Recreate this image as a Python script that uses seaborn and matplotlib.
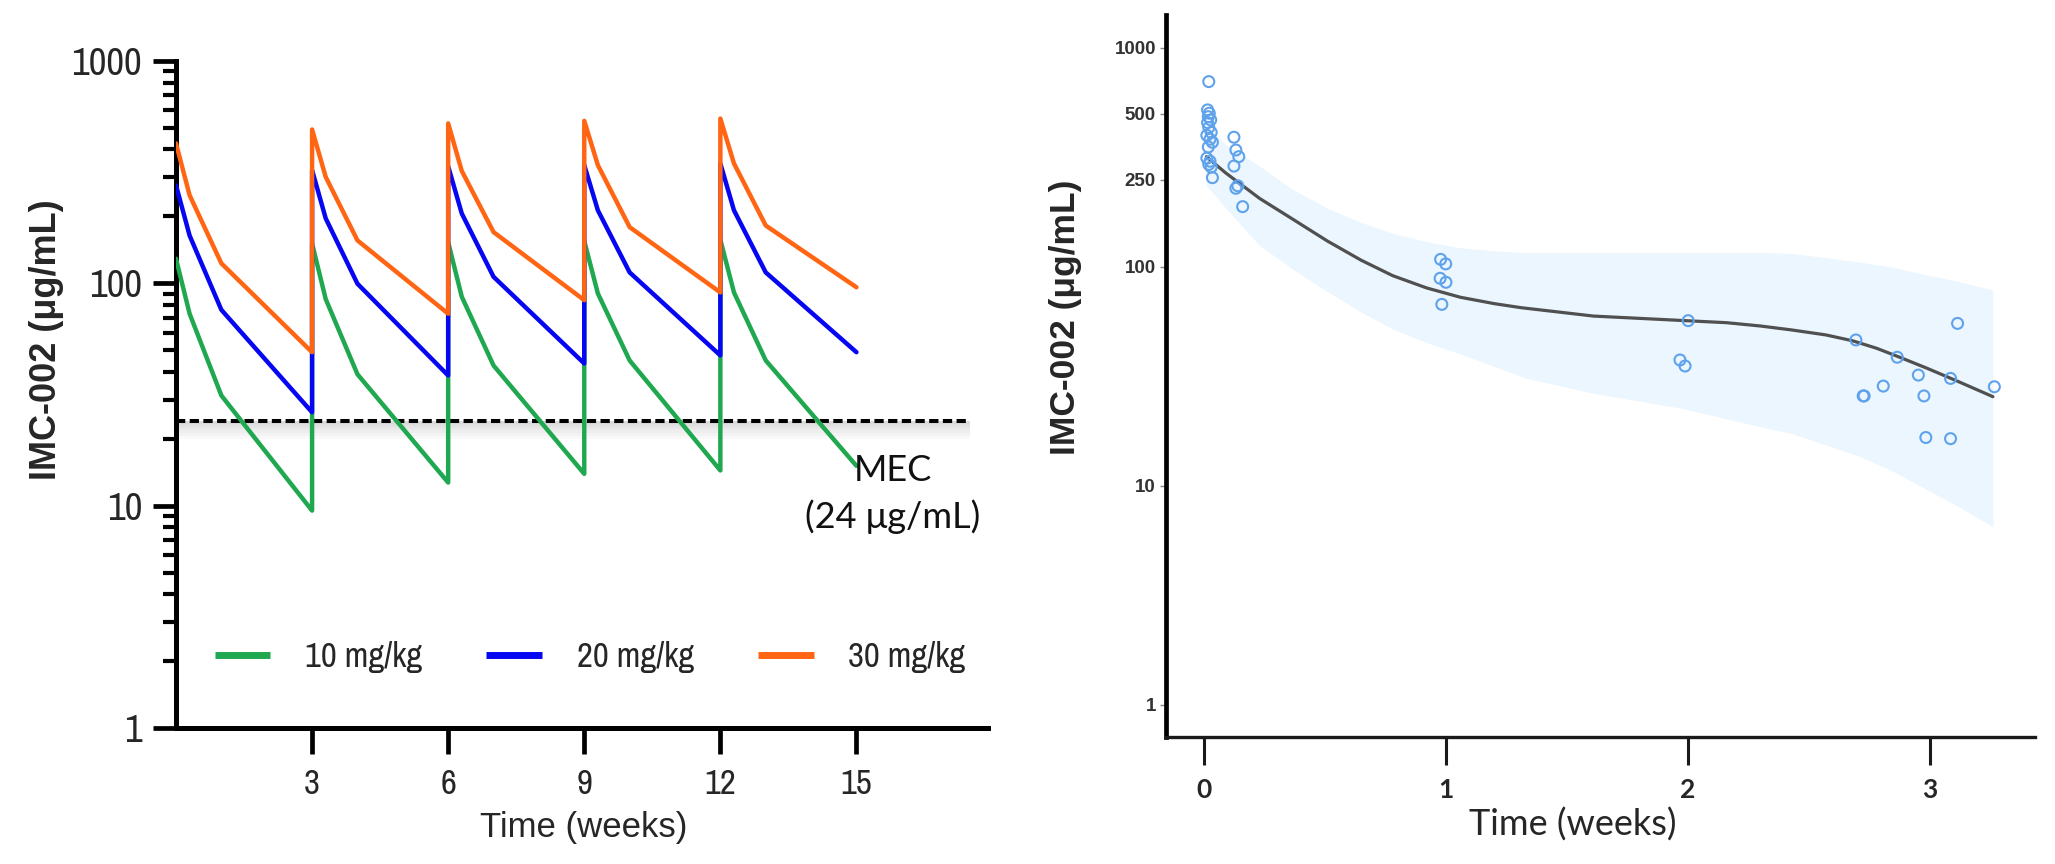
import numpy as np
import pandas as pd
import matplotlib
matplotlib.use("Agg")
import matplotlib.pyplot as plt
import seaborn as sns
from matplotlib import font_manager as fm
from matplotlib.lines import Line2D
from matplotlib.ticker import LogLocator, NullFormatter

# ---------------- data: left panel (simulated PK profiles) ----------------
pk_time = [0, 0.3, 1, 3, 3, 3.3, 4, 6, 6, 6.3, 7, 9, 9, 9.3, 10, 12, 12, 12.3, 13, 15]
conc_10 = [129, 73, 31.3, 9.5, 151, 85, 39, 12.7, 153, 87, 42.7, 13.9, 155, 90, 45, 14.4, 157, 91, 45, 15.1]
conc_20 = [276, 164, 76, 26.3, 323, 196, 99.6, 38.5, 336, 206, 107, 43.6, 340, 213, 112, 47.4, 346, 213, 112, 49]
conc_30 = [426, 249, 123, 49, 492, 301, 156, 73, 524, 320, 170, 84, 538, 340, 179, 91, 551, 346, 182, 96]
dose_labels = ["10 mg/kg", "20 mg/kg", "30 mg/kg"]
dose_colors = ["#1FA84F", "#0606F2", "#FF6512"]
mec_value = 24
mec_text = "MEC\n(24 \u03bcg/mL)"
left_xticks = [3, 6, 9, 12, 15]
left_yticks = [1, 10, 100, 1000]

# ---------------- data: right panel (observed + fit) ----------------
obs_time = [0.020, 0.015, 0.022, 0.018, 0.028, 0.015, 0.020, 0.030, 0.012, 0.025, 0.035, 0.018,
            0.012, 0.025, 0.020, 0.030, 0.035,
            0.124, 0.132, 0.144, 0.124, 0.140, 0.132, 0.160,
            0.978, 0.999, 0.976, 1.000, 0.983,
            2.001, 1.967, 1.988,
            2.694, 2.865, 2.724, 2.728, 2.807, 2.952, 2.975, 2.983, 3.085, 3.085, 3.114, 3.266]
obs_conc = [700, 520, 502, 484, 468, 455, 432, 410, 398, 382, 370, 352,
            313, 303, 293, 285, 255,
            390, 341, 318, 288, 234, 228, 188,
            108, 103, 88.5, 84.9, 67.3,
            56.7, 37.5, 35.2,
            46.3, 38.6, 25.7, 25.7, 28.5, 32.0, 25.7, 16.6, 16.4, 30.9, 55.1, 28.3]
fit_time = [0.01, 0.09, 0.23, 0.37, 0.51, 0.65, 0.78, 0.92, 1.06, 1.20, 1.31, 1.61, 1.88, 2.16, 2.30,
            2.43, 2.57, 2.68, 2.78, 2.88, 2.99, 3.12, 3.26]
fit_conc = [318, 268, 205, 164, 131, 107, 91, 80, 72.5, 67.8, 65, 59.5, 57.5, 55.5, 53.6,
            51.4, 48.8, 45.9, 42.4, 38.4, 34.3, 29.8, 25.5]
band_time = [0.01, 0.09, 0.23, 0.37, 0.51, 0.65, 0.78, 0.92, 1.06, 1.20, 1.33, 1.61, 1.97, 2.30, 2.43,
             2.71, 2.85, 2.99, 3.12, 3.26]
band_upper = [436, 362, 288, 224, 185, 159, 142, 130, 122, 118, 116, 116, 116, 116, 115,
              105, 99, 91.6, 85.4, 78.3]
band_lower = [235, 185, 125, 97, 77, 62, 52, 45, 40, 35, 31, 26.4, 22.6, 18.6, 17.3,
              13.6, 11.6, 9.56, 8.0, 6.5]
right_xticks = [0, 1, 2, 3]
right_yticks = [1, 10, 100, 250, 500, 1000]
ylabel_text = "IMC-002 (\u03bcg/mL)"
xlabel_text = "Time (weeks)"

# ---------------- fonts ----------------
sns.set_theme(style="ticks")
avail = {f.name for f in fm.fontManager.ttflist}
narrow_family = None
for cand in ["Liberation Sans Narrow", "Arial Narrow", "Archivo Narrow", "Roboto Condensed",
             "Open Sans Condensed", "DejaVu Sans Condensed"]:
    if cand in avail:
        narrow_family = cand
        break
plt.rcParams["font.family"] = ["Liberation Sans", "DejaVu Sans"]
if narrow_family:
    fp_narrow = lambda s: fm.FontProperties(family=[narrow_family, "DejaVu Sans"], size=s)
else:
    fp_narrow = lambda s: fm.FontProperties(family=["Liberation Sans", "DejaVu Sans"], size=s * 0.88)
fp_bold = lambda s: fm.FontProperties(family=["Liberation Sans", "DejaVu Sans"], weight="bold", size=s)
soft_family = "Lato" if "Lato" in avail else "DejaVu Sans"
fp_soft = lambda s, w="normal": fm.FontProperties(family=[soft_family, "DejaVu Sans"], size=s, weight=w)

W, H = 2055, 864
fig = plt.figure(figsize=(W / 100, H / 100), dpi=100)

# ================= left panel =================
axL = fig.add_axes([176 / W, 1 - 728 / H, (988 - 176) / W, (728 - 61) / H])
rows = []
for lab, vals in zip(dose_labels, [conc_10, conc_20, conc_30]):
    for t, c in zip(pk_time, vals):
        rows.append({"time": t, "conc": c, "dose": lab})
df_pk = pd.DataFrame(rows)
axL.set_yscale("log")
L_XMAX = 17.9
mec_end = 17.5
# soft shadow under the MEC line
for f in [0.975, 0.955, 0.935, 0.91, 0.885, 0.86, 0.835]:
    axL.axhspan(mec_value * f, mec_value, xmin=0, xmax=mec_end / L_XMAX,
                color="#808080", alpha=0.045, lw=0, zorder=1)
axL.axhline(mec_value, xmin=0, xmax=mec_end / L_XMAX, color="black", lw=2.9,
            dashes=(2.3, 1.1), zorder=2)
sns.lineplot(data=df_pk, x="time", y="conc", hue="dose", palette=dose_colors,
             hue_order=dose_labels, sort=False, estimator=None, lw=3.2,
             legend=False, ax=axL, zorder=3)
axL.set_xlim(0, L_XMAX)
axL.set_ylim(1, 1000)
for s in ["top", "right"]:
    axL.spines[s].set_visible(False)
for s in ["left", "bottom"]:
    axL.spines[s].set_linewidth(3.6)
    axL.spines[s].set_color("black")
    axL.spines[s].set_capstyle("projecting")
axL.set_xticks(left_xticks, [str(v) for v in left_xticks], fontproperties=fp_narrow(25))
axL.set_yticks(left_yticks, [str(v) for v in left_yticks], fontproperties=fp_narrow(28))
axL.yaxis.set_minor_locator(LogLocator(base=10, subs=range(2, 10)))
axL.yaxis.set_minor_formatter(NullFormatter())
axL.tick_params(axis="y", which="major", length=16.5, width=3.4, color="black", pad=8)
axL.tick_params(axis="y", which="minor", length=9.5, width=3.0, color="black")
axL.tick_params(axis="x", which="major", length=19, width=3.4, color="black", pad=10)
axL.tick_params(axis="x", which="minor", length=0)
axL.set_xlabel(xlabel_text, fontproperties=fm.FontProperties(family=["Liberation Sans", "DejaVu Sans"], size=25))
axL.xaxis.set_label_coords((584 - 176) / 812, (728 - 828) / 667)
axL.xaxis.label.set_va("center")
axL.set_ylabel(ylabel_text, fontproperties=fp_bold(26))
axL.yaxis.set_label_coords((46 - 176) / 812, (728 - 340) / 667)
axL.yaxis.label.set_va("center")
axL.text(15.8, 11.3, mec_text, ha="center", va="center", linespacing=1.45,
         fontproperties=fp_soft(26), color="#111111")
handles = [Line2D([0], [0], color=c, lw=5, solid_capstyle="butt") for c in dose_colors]
axL.legend(handles, dose_labels, loc="center", bbox_to_anchor=(0.51, 0.106), ncol=3,
           frameon=False, prop=fp_narrow(25), handlelength=1.6, handletextpad=1.0,
           columnspacing=1.85)
axL.grid(False)

# ================= right panel =================
axR = fig.add_axes([1165.7 / W, 1 - 736.5 / H, (2035 - 1165.7) / W, (736.5 - 15) / H])
axR.set_yscale("log")
axR.fill_between(band_time, band_lower, band_upper, color="#EBF6FE", lw=0, zorder=1)
sns.lineplot(x=fit_time, y=fit_conc, color="#505050", lw=2.3, sort=False,
             estimator=None, ax=axR, zorder=2)
sns.scatterplot(x=obs_time, y=obs_conc, color="#5FA2EC", s=62, linewidth=1.5,
                marker="o", ax=axR, zorder=3, legend=False)
pts = axR.collections[-1]
pts.set_facecolor("none")
pts.set_edgecolor("#5FA2EC")
axR.set_xlim(-0.158, 3.434)
axR.set_ylim(0.716, 1410)
for s in ["top", "right"]:
    axR.spines[s].set_visible(False)
axR.spines["left"].set_linewidth(3.4)
axR.spines["left"].set_color("black")
axR.spines["bottom"].set_linewidth(2.4)
axR.spines["bottom"].set_color("#1a1a1a")
for s in ["left", "bottom"]:
    axR.spines[s].set_capstyle("projecting")
axR.set_xticks(right_xticks, [str(v) for v in right_xticks], fontproperties=fp_soft(19, "bold"))
axR.set_yticks(right_yticks, [str(v) for v in right_yticks], fontproperties=fp_bold(13.5),
               color="#333333")
axR.yaxis.set_minor_locator(plt.NullLocator())
axR.tick_params(axis="y", which="major", length=4, width=1, color="#888888", pad=3)
axR.tick_params(axis="x", which="major", length=20, width=2.2, color="#1a1a1a", pad=10)
axR.set_xlabel(xlabel_text, fontproperties=fp_soft(26))
axR.xaxis.set_label_coords((1573 - 1165.7) / 869.3, (736.5 - 825) / 721.5)
axR.xaxis.label.set_va("center")
axR.set_ylabel(ylabel_text, fontproperties=fp_bold(25.5))
axR.yaxis.set_label_coords((1065 - 1165.7) / 869.3, (736.5 - 317) / 721.5)
axR.yaxis.label.set_va("center")
axR.grid(False)

fig.savefig("out.png", dpi=100)
